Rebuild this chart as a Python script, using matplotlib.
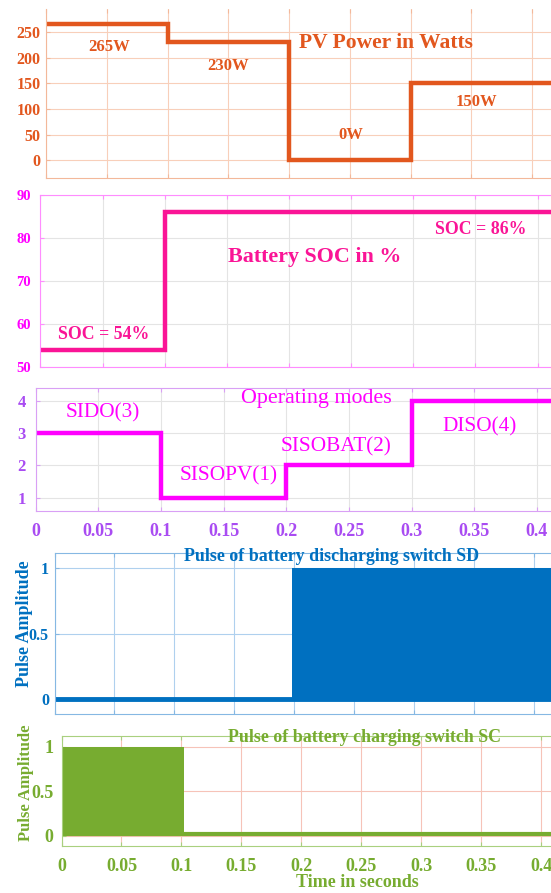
import numpy as np
import matplotlib
matplotlib.use("Agg")
import matplotlib.pyplot as plt

plt.rcParams['font.family'] = ['Liberation Serif', 'DejaVu Serif']

# ---- data ----
t_edges = [0, 0.1, 0.2, 0.3, 0.45]
pv_power = [265, 230, 0, 150]

soc_edges = [0, 0.1, 0.45]
soc = [54, 86]

mode_edges = [0, 0.1, 0.2, 0.3, 0.45]
modes = [3, 1, 2, 4]

sd_edges = [0, 0.198, 0.45]
sd_amp = [0, 1]

sc_edges = [0, 0.102, 0.45]
sc_amp = [1, 0]

pv_labels = [(0.052, 221, "265W"), (0.15, 183, "230W"), (0.251, 49, "0W"), (0.354, 114, "150W")]
soc_labels = [(0.051, 57.7, "SOC = 54%"), (0.3545, 81.9, "SOC = 86%")]
mode_labels = [(0.0534, 3.61, "SIDO(3)"), (0.154, 1.66, "SISOPV(1)"),
               (0.2395, 2.58, "SISOBAT(2)"), (0.354, 3.2, "DISO(4)")]

x_ticks = np.arange(0, 0.41, 0.05)
x_ticklabels = ["0", "0.05", "0.1", "0.15", "0.2", "0.25", "0.3", "0.35", "0.4"]

W, H = 551, 893
fig = plt.figure(figsize=(W / 100, H / 100), dpi=100)


def make_axes(left_px, top_px, bottom_px):
    return fig.add_axes([left_px / W, 1 - bottom_px / H, 1 - left_px / W, (bottom_px - top_px) / H])


def style(ax, spine_col, grid_col, tick_col, tsize, ypad, show_top=True):
    for s in ['left', 'bottom', 'top']:
        ax.spines[s].set_color(spine_col)
    ax.spines['right'].set_visible(False)
    ax.spines['top'].set_visible(show_top)
    ax.grid(True, color=grid_col, lw=0.8)
    ax.set_axisbelow(True)
    ax.tick_params(direction='in', length=3, color=spine_col, top=True, right=False,
                   labelcolor=tick_col, labelsize=tsize)
    ax.tick_params(axis='y', pad=ypad)
    for lab in ax.get_yticklabels() + ax.get_xticklabels():
        lab.set_fontweight('bold')


# ---- panel 1: PV power ----
orange = '#E2571E'
ax1 = make_axes(46.4, 9.3, 177.7)
ax1.stairs(pv_power, t_edges, baseline=None, color=orange, lw=3.2)
ax1.set_xlim(0, 0.4157)
ax1.set_ylim(-34, 294)
ax1.set_xticks(x_ticks)
ax1.set_xticklabels([])
ax1.set_yticks([0, 50, 100, 150, 200, 250])
style(ax1, '#F3B89A', '#F8CFBA', orange, 11.5, 4, show_top=False)
for x, y, s in pv_labels:
    ax1.text(x, y, s, color=orange, fontsize=12, fontweight='bold', ha='center', va='center')
ax1.text(0.28, 229, "PV Power in Watts", color=orange, fontsize=15.5, fontweight='bold',
         ha='center', va='center')

# ---- panel 2: battery SOC ----
pink = '#FA1496'
ax2 = make_axes(40.4, 195, 367.3)
ax2.stairs(soc, soc_edges, baseline=None, color=pink, lw=3.2)
ax2.set_xlim(0, 0.4108)
ax2.set_ylim(50, 90)
ax2.set_xticks(x_ticks)
ax2.set_xticklabels([])
ax2.set_yticks([50, 60, 70, 80, 90])
style(ax2, '#FF8CFF', '#E4E4E4', '#FF00FF', 10.5, 7)
for x, y, s in soc_labels:
    ax2.text(x, y, s, color=pink, fontsize=12.8, fontweight='bold', ha='center', va='center')
ax2.text(0.2205, 75.7, "Battery SOC in %", color=pink, fontsize=15.8, fontweight='bold',
         ha='center', va='center')

# ---- panel 3: operating modes ----
mag = '#FF00FF'
ax3 = make_axes(35.5, 388.3, 511)
ax3.stairs(modes, mode_edges, baseline=None, color=mag, lw=3.2)
ax3.set_xlim(0, 0.4112)
ax3.set_ylim(0.59, 4.38)
ax3.set_xticks(x_ticks)
ax3.set_xticklabels(x_ticklabels)
ax3.set_yticks([1, 2, 3, 4])
style(ax3, '#D9A0F5', '#E4E4E4', '#A94CF2', 12, 7)
ax3.tick_params(axis='x', pad=9, labelsize=13)
for x, y, s in mode_labels:
    ax3.text(x, y, s, color=mag, fontsize=15.3, ha='center', va='center')
ax3.text(0.224, 4.07, "Operating modes", color=mag, fontsize=15.8, ha='center', va='center')

# ---- panel 4: discharging switch SD ----
blue = '#0070C0'
ax4 = make_axes(54.5, 553.3, 714.3)
ax4.stairs(sd_amp, sd_edges, fill=True, color=blue)
ax4.hlines(0, sd_edges[0], sd_edges[-1], color=blue, lw=3.5)
ax4.set_xlim(0, 0.4141)
ax4.set_ylim(-0.115, 1.115)
ax4.set_xticks(x_ticks)
ax4.set_xticklabels([])
ax4.set_yticks([0, 0.5, 1])
ax4.set_yticklabels(["0", "0.5", "1"])
style(ax4, '#86B8E3', '#AFD0EE', blue, 11.5, 4)
ax4.text(0.559, 0.983, "Pulse of battery discharging switch SD", transform=ax4.transAxes,
         color=blue, fontsize=12.9, fontweight='bold', ha='center', va='center')
ax4.set_ylabel("Pulse Amplitude", color=blue, fontsize=13, fontweight='bold')
ax4.yaxis.set_label_coords(-0.06, 0.565)
ax4.yaxis.label.set_va('center')

# ---- panel 5: charging switch SC ----
green = '#77AC30'
ax5 = make_axes(61.5, 735.7, 845.7)
ax5.stairs(sc_amp, sc_edges, fill=True, color=green)
ax5.hlines(0.02, sc_edges[0], sc_edges[-1], color=green, lw=3)
ax5.set_xlim(0, 0.4083)
ax5.set_ylim(-0.112, 1.124)
ax5.set_xticks(x_ticks)
ax5.set_xticklabels(x_ticklabels)
ax5.set_yticks([0, 0.5, 1])
ax5.set_yticklabels(["0", "0.5", "1"])
style(ax5, '#A9D07F', '#F6C3B8', green, 13, 6)
ax5.tick_params(axis='x', pad=9)
ax5.text(0.618, 0.982, "Pulse of battery charging switch SC", transform=ax5.transAxes,
         color=green, fontsize=12.9, fontweight='bold', ha='center', va='center')
ax5.set_ylabel("Pulse Amplitude", color=green, fontsize=12, fontweight='bold')
ax5.yaxis.set_label_coords(-0.0725, 0.57)
ax5.yaxis.label.set_va('center')
ax5.set_xlabel("Time in seconds", color=green, fontsize=13, fontweight='bold')
ax5.xaxis.set_label_coords(0.605, -0.339)
ax5.xaxis.label.set_va('center')

fig.savefig("out.png", dpi=100, facecolor='white')
